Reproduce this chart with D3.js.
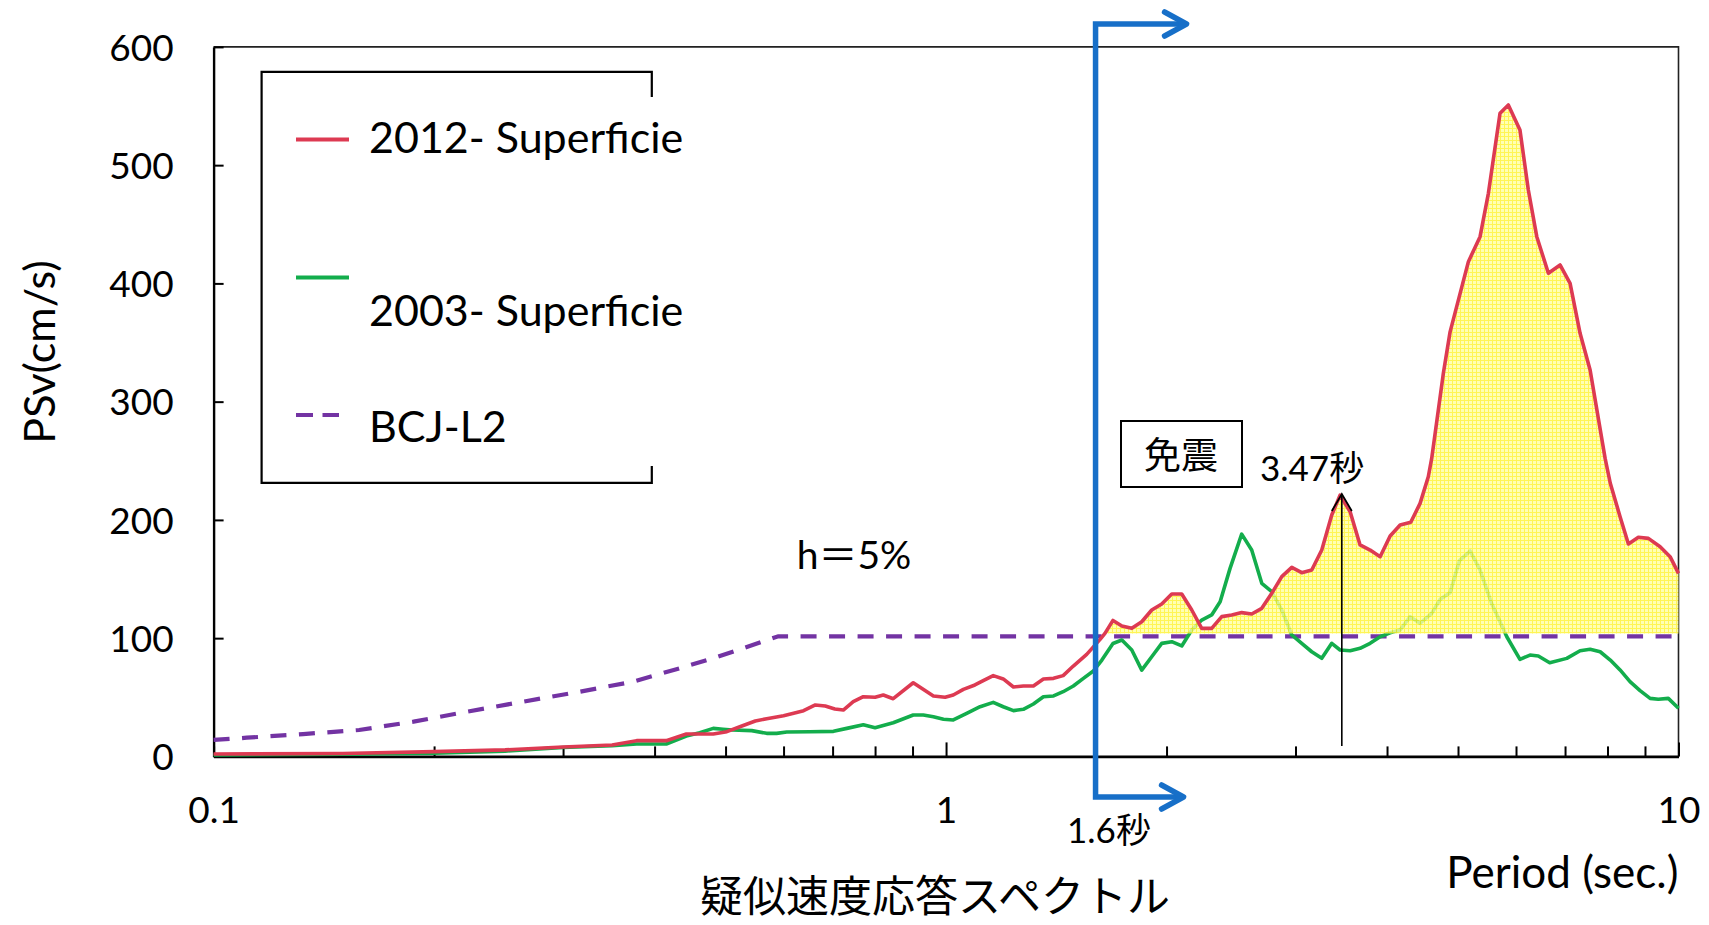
<!DOCTYPE html>
<html>
<head>
<meta charset="utf-8">
<script src="https://cdn.jsdelivr.net/npm/d3@7"></script>
<style>
  body { margin: 0; background: #fff; }
  svg { display: block; }
  text { font-family: Lato, "Noto Sans CJK JP", sans-serif; fill: #000; }
  .jp { font-family: "Noto Sans CJK JP", Lato, sans-serif; }
</style>
</head>
<body>
<svg id="chart" width="1709" height="925"></svg>
<script>
// Pseudo-velocity response spectra (h = 5%), period in seconds, PSv in cm/s
const periods2012 = [0.10, 0.15, 0.20, 0.25, 0.30, 0.35, 0.378, 0.415, 0.442, 0.461, 0.481, 0.502, 0.523, 0.549, 0.569, 0.600, 0.639, 0.663, 0.684, 0.705, 0.724, 0.747, 0.771, 0.800, 0.821, 0.847, 0.902, 0.961, 0.997, 1.023, 1.056, 1.095, 1.124, 1.160, 1.197, 1.236, 1.275, 1.316, 1.358, 1.402, 1.445, 1.492, 1.556, 1.623, 1.648, 1.690, 1.738, 1.793, 1.850, 1.909, 1.970, 2.033, 2.098, 2.165, 2.234, 2.305, 2.379, 2.455, 2.533, 2.614, 2.698, 2.784, 2.873, 2.965, 3.059, 3.157, 3.258, 3.362, 3.451, 3.562, 3.675, 3.793, 3.914, 4.039, 4.168, 4.310, 4.438, 4.554, 4.603, 4.775, 4.877, 5.166, 5.359, 5.501, 5.706, 5.857, 6.075, 6.237, 6.405, 6.643, 6.891, 7.112, 7.339, 7.574, 7.940, 8.070, 8.322, 8.543, 8.815, 9.097, 9.439, 9.739, 10.0];
const psv2012 = [2.0, 2.5, 4.0, 5.5, 8.0, 9.6, 13.3, 13.3, 18.9, 18.9, 18.9, 20.9, 25.1, 29.9, 31.9, 34.4, 38.7, 43.5, 42.6, 40.1, 39.2, 46.3, 50.5, 50.0, 51.9, 48.8, 62.3, 51.1, 50.0, 51.9, 56.7, 60.4, 64.0, 68.3, 65.5, 58.7, 59.5, 59.5, 65.5, 66.0, 68.3, 76.4, 86.3, 99.0, 104.0, 115.0, 110.3, 108.3, 113.9, 123.8, 128.9, 137.3, 137.3, 123.8, 108.3, 108.3, 118.2, 119.6, 121.6, 120.4, 125.2, 137.9, 152.0, 159.9, 155.4, 157.6, 174.5, 204.1, 221.0, 206.9, 178.8, 174.5, 168.9, 186.4, 195.7, 198.0, 214.0, 236.5, 252.0, 324.0, 359.0, 418.4, 439.5, 476.2, 543.8, 550.9, 529.7, 479.0, 439.5, 408.6, 415.6, 400.1, 357.8, 326.8, 252.0, 231.0, 202.7, 179.6, 185.3, 184.4, 177.3, 168.9, 154.8];

const periods2003 = [0.10, 0.15, 0.20, 0.25, 0.30, 0.35, 0.378, 0.415, 0.442, 0.461, 0.481, 0.496, 0.511, 0.543, 0.569, 0.587, 0.606, 0.652, 0.702, 0.732, 0.771, 0.800, 0.847, 0.902, 0.931, 0.961, 0.992, 1.023, 1.067, 1.113, 1.160, 1.197, 1.236, 1.275, 1.316, 1.358, 1.402, 1.445, 1.492, 1.540, 1.589, 1.632, 1.690, 1.738, 1.793, 1.850, 1.909, 1.970, 2.033, 2.098, 2.165, 2.234, 2.305, 2.367, 2.442, 2.533, 2.614, 2.698, 2.784, 2.873, 2.965, 3.059, 3.157, 3.258, 3.362, 3.451, 3.562, 3.675, 3.793, 3.914, 4.039, 4.168, 4.301, 4.438, 4.603, 4.727, 4.877, 5.022, 5.194, 5.359, 5.556, 5.829, 6.075, 6.270, 6.436, 6.670, 7.038, 7.339, 7.574, 7.817, 8.070, 8.322, 8.586, 8.862, 9.146, 9.385, 9.685, 10.0];
const psv2003 = [1.2, 1.8, 2.6, 4.5, 7.5, 9.0, 10.5, 10.5, 17.2, 20.0, 23.7, 22.9, 22.3, 21.8, 19.5, 19.5, 20.6, 20.9, 21.2, 23.7, 26.8, 24.3, 28.5, 35.0, 35.0, 33.6, 31.4, 30.8, 36.4, 42.0, 45.7, 42.0, 38.7, 39.8, 44.3, 50.5, 51.1, 54.7, 59.5, 66.0, 72.2, 81.5, 95.5, 98.4, 90.0, 73.0, 84.3, 95.6, 97.0, 93.4, 106.9, 115.3, 119.6, 130.8, 159.0, 188.0, 174.5, 146.4, 139.3, 123.8, 102.7, 95.6, 88.5, 82.9, 95.6, 90.0, 89.4, 91.4, 95.6, 101.2, 104.6, 106.9, 118.2, 112.6, 121.0, 132.8, 138.4, 165.5, 173.7, 157.6, 129.5, 101.2, 82.1, 85.7, 84.9, 79.2, 82.9, 89.4, 90.6, 88.5, 81.5, 73.1, 63.2, 55.6, 49.1, 48.3, 49.1, 40.7];

// BCJ Level-2 design spectrum
const periodsBCJ = [0.10, 0.111, 0.1325, 0.158, 0.1875, 0.2218, 0.2646, 0.316, 0.374, 0.4326, 0.481, 0.59, 10.0];
const psvBCJ = [13.9, 15.8, 18.9, 22.3, 29.4, 37.8, 46.3, 54.7, 63.2, 74.5, 83.0, 101.5, 101.5];

const yTicks = [0, 100, 200, 300, 400, 500, 600];
const xTicks = [0.1, 0.2, 0.3, 0.4, 0.5, 0.6, 0.7, 0.8, 0.9, 1, 2, 3, 4, 5, 6, 7, 8, 9, 10];
const xTickLabels = { 0.1: "0.1", 1: "1", 10: "10" };

const seriesNames = ["2012- Superficie", "2003- Superficie", "BCJ-L2"];
const isolationPeriod = 1.6;     // seismic isolation threshold (s)
const peakPeriod = 3.47;         // marked peak (s)
const fillBase = 104;            // lower edge of the shaded exceedance area

const svg = d3.select("#chart");
const X0 = 213.6, X1 = 1678.5, Y0 = 756.4, Y1 = 46.9;
const x = d3.scaleLog().domain([0.1, 10]).range([X0, X1]);
const y = d3.scaleLinear().domain([0, 600]).range([Y0, Y1]);

const red = "#dd3a52", green = "#13ad4c", purple = "#7333a3", blue = "#176fc8";

const zip = (ts, vs) => ts.map((t, i) => ({ t, v: vs[i] }));
const d2012 = zip(periods2012, psv2012);
const d2003 = zip(periods2003, psv2003);
const dBCJ = zip(periodsBCJ, psvBCJ);

// fill pattern (fine yellow grid)
const defs = svg.append("defs");
const pat = defs.append("pattern").attr("id", "grid").attr("width", 4).attr("height", 4)
  .attr("patternUnits", "userSpaceOnUse");
pat.append("rect").attr("width", 4).attr("height", 4).attr("fill", "#ffffa4");
pat.append("path").attr("d", "M0 0.5H4M0.5 0V4").attr("stroke", "#fff330").attr("stroke-width", 1);

// frame (top / right)
svg.append("path").attr("d", `M${X0},${Y1}H${X1}V${Y0}`)
  .attr("fill", "none").attr("stroke", "#222").attr("stroke-width", 1.6);

// y axis
const gy = svg.append("g").attr("transform", `translate(${X0},0)`)
  .call(d3.axisLeft(y).tickValues(yTicks).tickSizeInner(-10).tickSizeOuter(0).tickPadding(40));
gy.select(".domain").attr("stroke", "#000").attr("stroke-width", 2.4);
gy.selectAll(".tick line").attr("stroke", "#000").attr("stroke-width", 2);
gy.selectAll(".tick text").attr("font-family", "Lato, sans-serif").attr("font-size", 37)
  .attr("dy", "0.36em");

// x axis
const gx = svg.append("g").attr("transform", `translate(0,${Y0})`)
  .call(d3.axisBottom(x).tickValues(xTicks).tickSizeInner(-10).tickSizeOuter(0).tickPadding(40)
    .tickFormat(d => xTickLabels[d] || ""));
gx.select(".domain").attr("stroke", "#000").attr("stroke-width", 2.6);
gx.selectAll(".tick line").attr("stroke", "#000").attr("stroke-width", 2)
  .attr("y2", d => (xTickLabels[d] && d !== 0.1) ? -14 : -10);
gx.selectAll(".tick text").attr("font-family", "Lato, sans-serif").attr("font-size", 37)
  .attr("dy", "0.71em");

// curves
const line = d3.line().x(d => x(d.t)).y(d => y(d.v));
svg.append("path").datum(dBCJ).attr("d", line).attr("fill", "none")
  .attr("stroke", purple).attr("stroke-width", 4.2).attr("stroke-dasharray", "16,12.5");
svg.append("path").datum(d2003).attr("d", line).attr("fill", "none")
  .attr("stroke", green).attr("stroke-width", 3.6).attr("stroke-linejoin", "round");

// exceedance area above the design level beyond the isolation period
const area = d3.area().x(d => x(d.t)).y0(y(fillBase)).y1(d => y(Math.max(d.v, fillBase)));
svg.append("path").datum(d2012.filter(d => d.t >= isolationPeriod)).attr("d", area)
  .attr("fill", "url(#grid)").attr("opacity", 0.82);

svg.append("path").datum(d2012).attr("d", line).attr("fill", "none")
  .attr("stroke", red).attr("stroke-width", 3.6).attr("stroke-linejoin", "round");

// legend
svg.append("path").attr("d", "M651.8,97V71.9H261.6V482.8H651.8V466")
  .attr("fill", "none").attr("stroke", "#000").attr("stroke-width", 2.2);
const legendItems = [
  { name: seriesNames[0], color: red, ly: 139.5, ty: 153.3, dash: null },
  { name: seriesNames[1], color: green, ly: 277.5, ty: 326, dash: null },
  { name: seriesNames[2], color: purple, ly: 415, ty: 441.7, dash: "17,9.5" }
];
legendItems.forEach(it => {
  svg.append("line").attr("x1", 296).attr("x2", it.dash ? 339 : 349)
    .attr("y1", it.ly).attr("y2", it.ly).attr("stroke", it.color)
    .attr("stroke-width", 4).attr("stroke-dasharray", it.dash);
  svg.append("text").attr("x", 369).attr("y", it.ty).attr("font-size", 43).text(it.name);
});

// axis titles
svg.append("text").attr("transform", "translate(55,352) rotate(-90)")
  .attr("text-anchor", "middle").attr("font-size", 43).text("PSv(cm/s)");
svg.append("text").attr("x", X1).attr("y", 888).attr("text-anchor", "end")
  .attr("font-size", 44).text("Period (sec.)");
svg.append("text").attr("class", "jp").attr("x", 935).attr("y", 912)
  .attr("text-anchor", "middle").attr("font-size", 43).text("疑似速度応答スペクトル");
svg.append("text").attr("x", 854).attr("y", 569).attr("text-anchor", "middle")
  .attr("font-size", 39).text("h＝5%");

// isolation threshold bracket
const bx = x(isolationPeriod), tipTop = bx + 91, tipBot = bx + 88, yTop = 24, yBot = 797;
svg.append("path").attr("d", `M${tipTop},${yTop}H${bx}V${yBot}H${tipBot}`)
  .attr("fill", "none").attr("stroke", blue).attr("stroke-width", 5.5).attr("stroke-linejoin", "miter");
[[tipTop, yTop], [tipBot, yBot]].forEach(([tx, ty]) => {
  svg.append("path").attr("d", `M${tx - 22},${ty - 12}L${tx},${ty}L${tx - 22},${ty + 12}`)
    .attr("fill", "none").attr("stroke", blue).attr("stroke-width", 5.5)
    .attr("stroke-linecap", "round").attr("stroke-linejoin", "round");
});
svg.append("text").attr("x", 1109).attr("y", 843).attr("text-anchor", "middle")
  .attr("font-size", 35).text("1.6秒");

// label box
svg.append("rect").attr("x", 1121).attr("y", 421).attr("width", 121).attr("height", 66)
  .attr("fill", "#fff").attr("stroke", "#000").attr("stroke-width", 2);
svg.append("text").attr("class", "jp").attr("x", 1181).attr("y", 469)
  .attr("text-anchor", "middle").attr("font-size", 37).text("免震");

// peak period marker
const px = x(peakPeriod);
svg.append("line").attr("x1", px).attr("x2", px).attr("y1", 746).attr("y2", 494)
  .attr("stroke", "#000").attr("stroke-width", 1.6);
svg.append("path").attr("d", `M${px - 10},${511}L${px},${494}L${px + 10},${511}`)
  .attr("fill", "none").attr("stroke", "#000").attr("stroke-width", 1.8);
svg.append("text").attr("x", 1260).attr("y", 481).attr("font-size", 35).text("3.47秒");
</script>
</body>
</html>
